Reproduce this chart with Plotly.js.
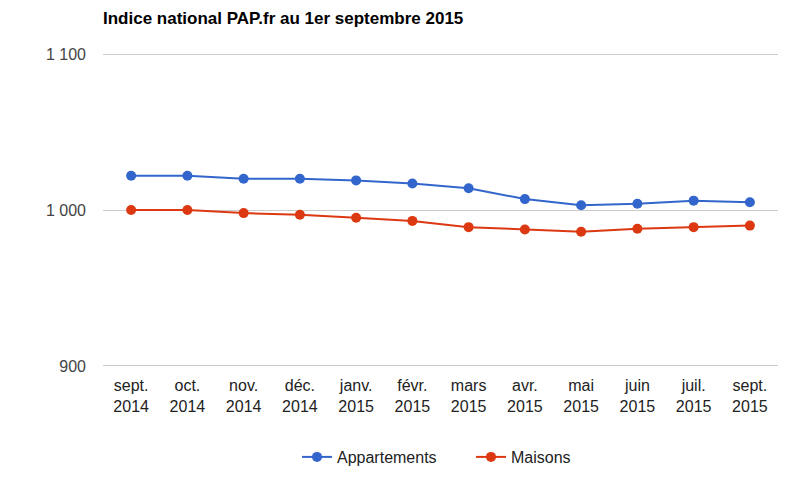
<!DOCTYPE html>
<html>
<head>
<meta charset="utf-8">
<script src="https://cdn.plot.ly/plotly-3.0.1.min.js"></script>
<style>html,body{margin:0;padding:0;background:#fff;}#chart{width:800px;height:478px;}</style>
</head>
<body>
<div id="chart"></div>
<script>
const categories = ["sept.<br>2014","oct.<br>2014","nov.<br>2014","déc.<br>2014","janv.<br>2015","févr.<br>2015","mars<br>2015","avr.<br>2015","mai<br>2015","juin<br>2015","juil.<br>2015","sept.<br>2015"];
const appartements = [1022, 1022, 1020, 1020, 1019, 1017, 1014, 1007, 1003, 1004, 1006, 1005];
const maisons = [1000, 1000, 998, 997, 995, 993, 989, 987.5, 986, 988, 989, 990];
const yTicks = [900, 1000, 1100];

const traces = [
  {x: categories, y: appartements, name: "Appartements", type: "scatter", mode: "lines+markers",
   line: {color: "#3366cc", width: 2}, marker: {color: "#3366cc", size: 10}},
  {x: categories, y: maisons, name: "Maisons", type: "scatter", mode: "lines+markers",
   line: {color: "#dc3912", width: 2}, marker: {color: "#dc3912", size: 10}}
];

const layout = {
  width: 800, height: 478,
  margin: {l: 103, r: 22, t: 53.4, b: 111.4, pad: 0, autoexpand: false},
  paper_bgcolor: "#fff", plot_bgcolor: "#fff",
  separators: ", ",
  font: {family: "Arial, 'Liberation Sans', sans-serif", size: 16, color: "#222"},
  title: {text: "<b>Indice national PAP.fr au 1er septembre 2015</b>", x: 0, xref: "paper", xanchor: "left",
          y: 1 - 18 / 478, yref: "container", yanchor: "middle", font: {size: 17, color: "#000"}},
  xaxis: {type: "category", range: [-0.5, 11.5], showgrid: false, zeroline: false, showline: false,
          tickfont: {size: 16, color: "#222"}, ticks: "", ticklabelstandoff: 7, fixedrange: true, automargin: false},
  yaxis: {range: [899.3, 1100.7], tickvals: yTicks, separatethousands: true, tickformat: ",d",
          showgrid: true, gridcolor: "#cccccc", gridwidth: 1, zeroline: false, showline: false,
          tickfont: {size: 16, color: "#444"}, ticks: "", ticklabelstandoff: 16, fixedrange: true, automargin: false},
  showlegend: true,
  legend: {orientation: "h", x: (297 - 103) / 675, xanchor: "left", yref: "container", y: 1 - 457 / 478, yanchor: "middle",
           font: {size: 16, color: "#222"}, itemwidth: 30, entrywidth: 129, entrywidthmode: "pixels",
           bgcolor: "rgba(0,0,0,0)", tracegroupgap: 0}
};
Plotly.newPlot("chart", traces, layout, {displayModeBar: false, staticPlot: true});
</script>
</body>
</html>
